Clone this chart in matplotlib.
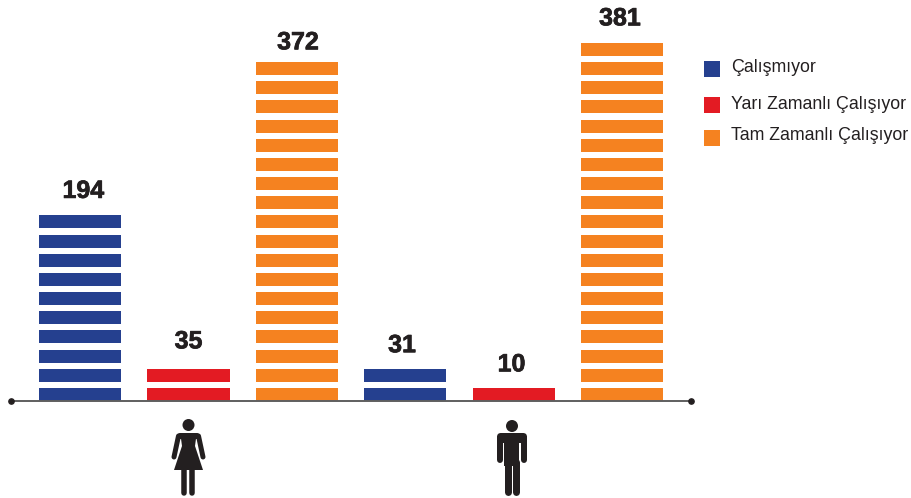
import matplotlib
matplotlib.use('Agg')
import matplotlib.pyplot as plt
import matplotlib.patheffects as pe
from matplotlib.patches import Circle, Polygon, Rectangle, FancyBboxPatch

W, H = 912, 498

values = [194, 35, 372, 31, 10, 381]
stripes = [10, 2, 18, 2, 1, 19]
groups = [0, 1, 2, 0, 1, 2]
series_names = ['Çalışmıyor', 'Yarı Zamanlı Çalışıyor', 'Tam Zamanlı Çalışıyor']
series_colors = ['#25408F', '#E31B23', '#F58220']

plt.rcParams['font.family'] = ['Liberation Sans Narrow', 'Liberation Sans', 'DejaVu Sans']
DARK = '#231F20'

fig = plt.figure(figsize=(W / 100, H / 100), dpi=100, facecolor='white')

# axes: x in bar slots, y in stripes, baseline sits at pixel row 401
left, right, base = 11, 692, 401
ax = fig.add_axes([left / W, (H - base) / H, (right - left) / W, base / H])
slot = 108.4
ax.set_xlim((left - 80.1) / slot, (right - 80.1) / slot)
ax.set_ylim(0, base / 19.17)
ax.axis('off')

label_dx = [0.03, 0, 0.01, -0.03, -0.02, -0.02]
label_dy = [1.28, 1.43, 1.03, 1.23, 1.23, 1.28]
for i, (v, n, g) in enumerate(zip(values, stripes, groups)):
    for k in range(n):
        ax.bar(i, 0.68, bottom=k, width=0.757, color=series_colors[g], linewidth=0, zorder=2)
    top = n - 1 + 0.68
    ax.text(i + label_dx[i], top + label_dy[i], str(v), ha='center', va='center',
            fontsize=18, fontweight='bold', color=DARK,
            path_effects=[pe.withStroke(linewidth=0.5, foreground=DARK)])

# overlay in pixels for the baseline, legend and the two figures
ov = fig.add_axes([0, 0, 1, 1], zorder=5)
ov.set_xlim(0, W)
ov.set_ylim(H, 0)
ov.axis('off')

ov.plot([11, 692], [401, 401], color='#5f5f5f', lw=1.4, solid_capstyle='butt', zorder=3)
ov.plot([11, 691], [401, 401], 'o', color=DARK, ms=3.8, zorder=4)

legend_y = [69, 105, 138]
text_y = [67, 104, 135]
for name, col, ly, ty in zip(series_names, series_colors, legend_y, text_y):
    ov.add_patch(Rectangle((704, ly - 8), 16, 16, color=col, lw=0))
    ov.text(731, ty, name, ha='left', va='center', fontsize=12.8, color=DARK)


def limb(ax, xs, ys, px):
    ax.plot(xs, ys, color=DARK, lw=px * 0.72, solid_capstyle='round')


def woman(ax, cx):
    ax.add_patch(Circle((cx, 425), 6, color=DARK, lw=0))
    ax.add_patch(FancyBboxPatch((cx - 11, 433), 22, 6, boxstyle='round,pad=0,rounding_size=2.5',
                                color=DARK, lw=0))
    ax.add_patch(Polygon([(cx - 8, 435), (cx + 8, 435), (cx + 6.5, 446), (cx + 14.5, 470),
                          (cx - 14.5, 470), (cx - 6.5, 446)], color=DARK, lw=0))
    limb(ax, [cx - 10, cx - 14.5], [436, 457], 5)
    limb(ax, [cx + 10, cx + 14.5], [436, 457], 5)
    limb(ax, [cx - 4, cx - 4], [468, 493], 5.5)
    limb(ax, [cx + 4, cx + 4], [468, 493], 5.5)


def man(ax, cx):
    ax.add_patch(Circle((cx, 426), 6, color=DARK, lw=0))
    ax.add_patch(FancyBboxPatch((cx - 15, 433), 30, 10, boxstyle='round,pad=0,rounding_size=4',
                                color=DARK, lw=0))
    ax.add_patch(Rectangle((cx - 7.5, 436), 15, 30, color=DARK, lw=0))
    limb(ax, [cx - 12, cx - 12], [438, 460], 6)
    limb(ax, [cx + 12, cx + 12], [438, 460], 6)
    limb(ax, [cx - 4, cx - 4], [462, 492], 7)
    limb(ax, [cx + 4, cx + 4], [462, 492], 7)


woman(ov, 188.5)
man(ov, 512)

fig.savefig('out.png', dpi=100, facecolor='white')
